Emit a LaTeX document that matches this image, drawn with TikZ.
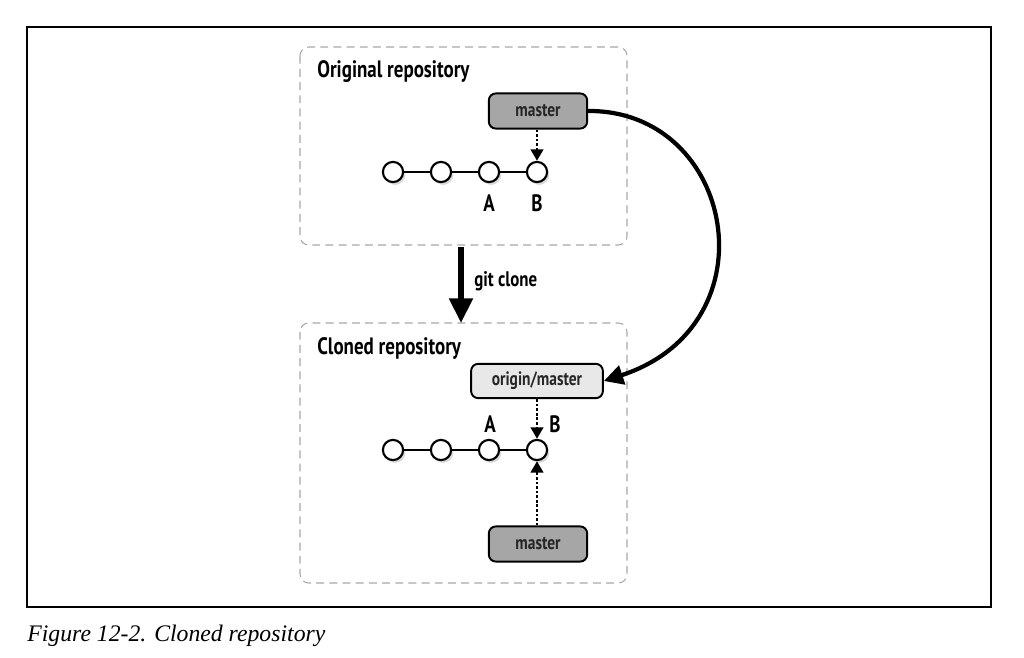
\documentclass[tikz,border=0pt]{standalone}
\usepackage{fontspec}
\newfontfamily\condbold[FakeStretch=0.8]{PT Sans Bold}
\newfontfamily\capfont{Liberation Serif}
\usetikzlibrary{arrows.meta,shadows}
\definecolor{dashgray}{HTML}{A8A8A8}
\definecolor{darkfill}{HTML}{A6A6A6}
\definecolor{lightfill}{HTML}{E8E8E8}
\tikzset{
  repobox/.style={draw=dashgray, dashed, dash pattern=on 4.5pt off 3pt, rounded corners=5pt, line width=0.6pt},
  title/.style={anchor=west, inner sep=0pt, font=\condbold\fontsize{13.5}{15}\selectfont},
  commit/.style={circle, draw=black, line width=1.2pt, fill=white, minimum size=11.5pt, inner sep=0pt,
     drop shadow={shadow xshift=1.2pt, shadow yshift=-1.6pt, opacity=0.3, fill=gray}},
  clabel/.style={inner sep=0pt, font=\condbold\fontsize{13.5}{15}\selectfont},
  refdark/.style={draw=black, line width=1.1pt, rounded corners=4pt, fill=darkfill, minimum width=56pt, minimum height=20pt, inner sep=0pt, font=\condbold\fontsize{11}{12}\selectfont\color{black!85}},
  reflight/.style={draw=black, line width=1.1pt, rounded corners=4pt, fill=lightfill, minimum width=75pt, minimum height=19.5pt, inner sep=0pt, font=\condbold\fontsize{11}{12}\selectfont\color{black!85}},
  link/.style={line width=0.9pt},
  ptr/.style={line width=1.6pt, densely dotted, -{Triangle[width=7pt,length=6.5pt]}},
}
\begin{document}
\begin{tikzpicture}[x=0.02cm, y=-0.02cm]
\useasboundingbox (0,0) rectangle (1024,658);
% outer frame
\draw[line width=0.8pt] (27,27) rectangle (991,607);
\node[anchor=base west, inner sep=0pt, font=\capfont\itshape\fontsize{13.5}{15}\selectfont] (cap) at (27,641) {Figure 12-2. Cloned repository};
% repository boxes
\draw[repobox] (300,47) rectangle (627,245);
\draw[repobox] (300,323) rectangle (627,583);
\node[title] (t1) at (317,72) {Original repository};
\node[title] (t2) at (317,348) {Cloned repository};
% original commits
\node[commit] (o1) at (393,172) {};
\node[commit] (o2) at (441,172) {};
\node[commit] (o3) at (489,172) {};
\node[commit] (o4) at (537,172) {};
\draw[link] (o1) -- (o2) (o2) -- (o3) (o3) -- (o4);
\node[clabel] (oA) at (489,203) {A};
\node[clabel] (oB) at (537,203) {B};
\node[refdark] (om) at (538,111) {master};
\draw[ptr] (om.south -| o4) -- (o4.north);
% cloned commits
\node[commit] (c1) at (393,450) {};
\node[commit] (c2) at (441,450) {};
\node[commit] (c3) at (489,450) {};
\node[commit] (c4) at (537,450) {};
\draw[link] (c1) -- (c2) (c2) -- (c3) (c3) -- (c4);
\node[clabel] (cA) at (490,424) {A};
\node[clabel] (cB) at (555,424) {B};
\node[reflight] (cor) at (537,381) {origin/master};
\node[refdark] (cm) at (538,544) {master};
\draw[ptr] (cor.south -| c4) -- (c4.north);
\draw[ptr] (cm.north -| c4) -- (c4.south);
% git clone arrow
\coordinate (g1) at (461,247);
\coordinate (g2) at (461,323);
\draw[line width=3.2pt, -{Triangle[width=13pt,length=14pt]}] (g1) -- (g2);
\node[anchor=west, inner sep=0pt, font=\condbold\fontsize{12}{13}\selectfont] (gl) at (474,281) {git clone};
% curved arrow
\draw[line width=2.4pt, -{Triangle[width=11pt,length=11pt]}] (om.east) .. controls (735,110) and (775,325) .. (cor.east);
\end{tikzpicture}
\end{document}
